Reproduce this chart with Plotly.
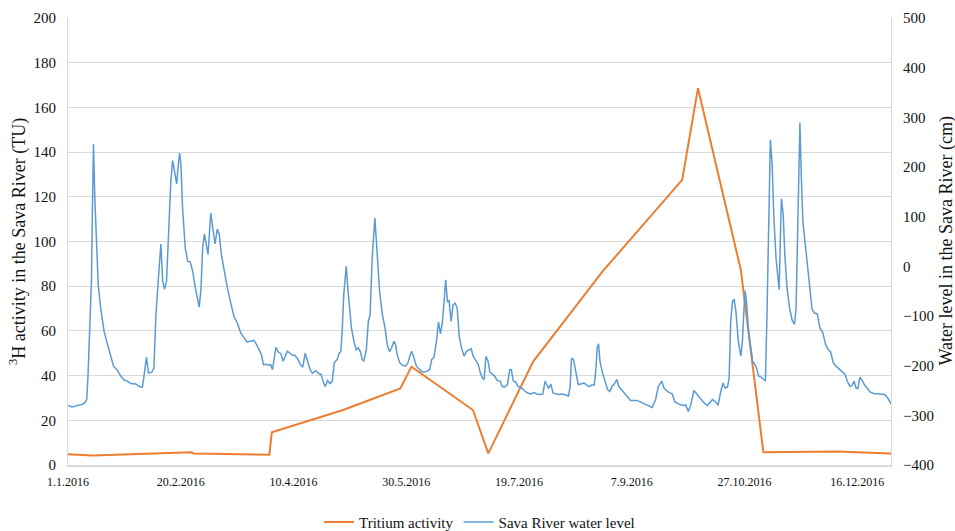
import pandas as pd
import plotly.graph_objects as go

# Tritium activity (TU): days since 1.1.2016 and values
tri_day = [0, 11, 54.8, 55.6, 89.3, 90.4, 122, 147.4, 152.3, 179.6, 186.4,
           206.3, 237, 272.4, 279.4, 298.4, 308.4, 340.8, 365]
tri_tu = [4.8, 4.3, 5.7, 5.2, 4.6, 14.6, 24.6, 34.3, 44.0, 24.6, 5.2,
          46.3, 86.5, 127.6, 168.6, 87.3, 5.7, 6.0, 5.1]

# Sava River water level (cm): days since 1.1.2016 and values
lev_day = [0, 1.9, 4.2, 6.4, 7.6, 8.3, 8.9, 9.6, 10.4, 10.8, 11.3, 11.9, 12.6, 13.4, 14.5, 16, 17.5, 19, 20.2, 22,
           23.4, 24.9, 26.4, 27.9, 30.1, 31.6, 33, 33.8, 34.8, 35.7, 37.2, 38.1, 39, 40.2, 41.2, 42, 42.8, 43.7,
           44.9, 45.6, 46.4, 47.3, 48.2, 48.9, 49.5, 50.1, 50.8, 52, 53.1, 54.2, 55.3, 56.5, 57.5, 58.2, 59, 59.7,
           60.5, 61.0, 62.1, 63.3, 64.3, 65.2, 66.2, 67.1, 68.0, 69.2, 70.7, 72.2, 73.6, 75.1, 76.6, 78.1, 79.3,
           81, 82.5, 83.7, 84.7, 85.8, 86.7, 87.7, 88.7, 89.9, 90.7, 91.4, 92.2, 93.2, 94.4, 95.4, 96.3, 97.3,
           98.5, 99.6, 100.6, 101.8, 103.0, 104.1, 105.2, 106.2, 107.4, 108.4, 109.9, 111.4, 112.2, 113.2, 114.1,
           115.1, 116.2, 117.2, 118.1, 119.3, 120.3, 121.0, 121.6, 122.3, 123.4, 124.1, 124.9, 125.7, 126.8,
           127.8, 128.7, 129.7, 130.5, 131.2, 132.3, 133.2, 134.0, 134.9, 136.1, 137.0, 138.2, 139.4, 140.6,
           141.6, 142.6, 143.5, 144.6, 145.3, 146.0, 147.1, 148.3, 149.7, 150.8, 151.7, 152.4, 153.5, 154.5,
           156.0, 157.2, 158.3, 159.4, 160.4, 161.3, 162.3, 163.4, 164.3, 165.2, 166.0, 166.8, 167.5, 168.3,
           169.0, 169.9, 170.8, 171.7, 172.6, 173.5, 174.5, 175.7, 176.7, 177.9, 178.8, 179.7, 180.9, 182.0,
           182.9, 183.8, 184.5, 185.4, 186.3, 187.1, 188.2, 189.2, 190.4, 191.6, 192.6, 193.7, 194.9, 195.9,
           196.6, 197.5, 198.6, 199.6, 200.8, 202.0, 203.0, 204.0, 205.2, 206.7, 207.9, 209.4, 210.6, 211.6,
           212.3, 213.1, 214.1, 215.1, 216.3, 217.8, 219.3, 220.8, 222.0, 222.7, 223.3, 224.2, 225.2, 226.3,
           227.4, 228.9, 230.1, 231.1, 232.2, 233.4, 234.1, 234.7, 235.3, 236.0, 237.1, 238.1, 239.3, 240.3,
           241.2, 242.3, 243.4, 244.3, 247.3, 249.5, 252.4, 254.7, 256.9, 259.1, 260.6, 261.8, 263.3, 264.3,
           265.8, 268.0, 269.2, 270.7, 272.7, 273.9, 275.1, 276.2, 277.6, 279.1, 280.6, 282.1, 283.6, 284.6,
           285.8, 287.3, 288.3, 289.5, 290.5, 291.4, 292.5, 293.2, 293.9, 294.7, 295.4, 296.2, 297.3, 298.4,
           299.1, 299.9, 300.3, 300.9, 301.8, 302.8, 303.6, 304.7, 305.6, 306.3, 307.4, 308.6, 309.3, 310.0,
           310.8, 311.5, 312.3, 313.0, 314.0, 314.8, 315.4, 316.0, 316.4, 317.2, 317.9, 318.9, 320.0, 321.2,
           322.2, 322.9, 323.5, 324.1, 324.6, 325.2, 325.9, 326.8, 327.8, 328.9, 330.0, 331.1, 332.3, 333.5,
           334.8, 336.0, 337.2, 338.2, 339.4, 340.6, 341.9, 343.4, 344.6, 345.6, 346.8, 347.8, 348.6, 349.5,
           350.3, 351.2, 352.3, 353.3, 354.5, 355.7, 357.2, 359.0, 360.7, 362.2, 363.4, 364.6, 365.0]
lev_cm = [-280, -283, -280, -278, -274, -268, -218, -131, -30, 104, 246, 137, 37, -37, -84, -131, -157, -181, -201, -210,
          -221, -229, -231, -236, -237, -242, -243, -218, -183, -215, -213, -205, -97, -17, 45, -30, -46, -30,
          91, 171, 213, 191, 166, 204, 228, 204, 118, 37, 10, 9, -10, -44, -67, -82, -44, 37,
          65, 50, 24, 107, 70, 45, 75, 64, 24, -10, -44, -74, -101, -114, -134, -144, -152,
          -151, -149, -158, -168, -178, -198, -197, -199, -198, -208, -181, -163, -172, -176, -191, -183, -171,
          -175, -179, -179, -186, -197, -203, -175, -191, -208, -215, -210, -217, -217, -233, -242,
          -230, -236, -231, -194, -188, -175, -172, -130, -57, 0, -44, -90, -124, -151,
          -168, -164, -172, -188, -191, -168, -111, -97, 17, 97, 24, -50, -97, -124,
          -158, -172, -164, -151, -158, -178, -194, -199, -201, -194, -179, -171, -185, -201,
          -208, -213, -213, -210, -208, -188, -183, -151, -112, -136, -114, -71, -27, -71,
          -69, -111, -77, -74, -84, -141, -164, -181, -171, -168, -166, -181, -191, -198,
          -215, -225, -228, -181, -191, -213, -217, -221, -230, -231, -242, -243, -238, -208,
          -208, -231, -233, -242, -243, -248, -253, -255, -257, -254, -257, -258, -257, -231,
          -239, -246, -237, -255, -257, -258, -257, -260, -261, -242, -185, -188, -215, -238,
          -237, -235, -239, -242, -239, -239, -208, -164, -156, -194, -215, -231, -248, -252,
          -242, -237, -228, -242, -257, -270, -270, -275, -279, -284, -268, -242, -231, -245,
          -252, -257, -273, -277, -280, -279, -292, -279, -250, -258, -268, -275, -280, -275,
          -268, -273, -280, -252, -235, -245, -243, -225, -111, -71, -66, -90, -151, -181,
          -151, -77, -49, -71, -131, -164, -191, -198, -208, -221, -223, -228, -231, -97,
          104, 255, 204, 104, 17, -30, -47, 70, 136, 104, 24, -44, -84, -109,
          -117, -84, 37, 204, 289, 185, 91, 52, 10, -44, -87, -94, -96, -124,
          -134, -158, -168, -172, -194, -201, -206, -213, -217, -231, -242, -239, -231, -245,
          -246, -223, -230, -239, -246, -253, -256, -257, -258, -258, -264, -273, -277]

base = pd.Timestamp("2016-01-01")
tri_x = base + pd.to_timedelta(tri_day, unit="D")
lev_x = base + pd.to_timedelta(lev_day, unit="D")

FONT = "Liberation Serif"
TXT = "#111111"
GRID = "#d9d9d9"

fig = go.Figure()
fig.add_trace(go.Scatter(x=tri_x, y=tri_tu, mode="lines", name="Tritium activity",
                         line=dict(color="#ED7D31", width=2), yaxis="y"))
fig.add_trace(go.Scatter(x=lev_x, y=lev_cm, mode="lines", name="Sava River water level",
                         line=dict(color="#5B9BD5", width=1.5), yaxis="y2"))

fig.update_layout(
    width=955, height=531,
    margin=dict(l=68, r=64, t=18, b=66, autoexpand=False),
    paper_bgcolor="white", plot_bgcolor="white",
    font=dict(family=FONT, color=TXT, size=15),
    showlegend=True,
    legend=dict(orientation="h", x=0.5, xanchor="center", y=-0.128, yanchor="middle",
                font=dict(family=FONT, size=15, color=TXT), itemwidth=30),
    xaxis=dict(
        type="date",
        range=["2016-01-01", "2016-12-31"],
        tick0="2016-01-01", dtick=50 * 86400000,
        tickformat="%-d.%-m.%Y",
        tickfont=dict(family=FONT, size=12, color=TXT),
        showgrid=False, showline=True, linecolor=GRID, linewidth=1.5,
        ticks="", zeroline=False, automargin=False, ticklabelstandoff=5,
    ),
    yaxis=dict(
        range=[0, 200], dtick=20, tick0=0,
        tickfont=dict(family=FONT, size=15, color=TXT),
        showgrid=True, gridcolor=GRID, gridwidth=1,
        showline=True, linecolor=GRID, zeroline=False, automargin=False,
        ticks="", ticklabelstandoff=8,
        title=dict(text="<sup>3</sup>H activity in the Sava River (TU)",
                   font=dict(family=FONT, size=18, color=TXT), standoff=3),
    ),
    yaxis2=dict(
        range=[-400, 500], dtick=100, tick0=-400,
        overlaying="y", side="right",
        tickfont=dict(family=FONT, size=15, color=TXT),
        showgrid=False, showline=True, linecolor=GRID, zeroline=False, automargin=False,
        ticks="", ticklabelstandoff=8,
    ),
    annotations=[dict(
        text="Water level in the Sava River (cm)",
        xref="paper", yref="paper", x=1, y=0.5, xshift=55,
        xanchor="center", yanchor="middle", textangle=-90, showarrow=False,
        font=dict(family=FONT, size=18, color=TXT),
    )],
)

# remove the default page margin so the 955x531 figure fills the window exactly
fig.write_html(
    "out.html",
    config={"displayModeBar": False},
    post_script="document.body.style.margin='0';document.body.style.overflow='hidden';",
)
